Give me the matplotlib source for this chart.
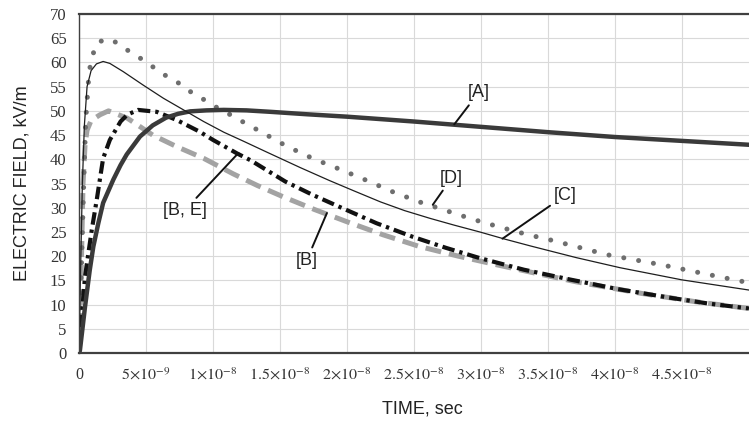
import numpy as np
import matplotlib
matplotlib.use('Agg')
import matplotlib.pyplot as plt

plt.rcParams['font.family'] = ['Liberation Sans', 'DejaVu Sans']
plt.rcParams['mathtext.fontset'] = 'stix'

# time in ns, field in kV/m
t_a = [0, 0.07, 0.45, 0.8, 1.07, 1.44, 1.8, 2.56, 3.1, 3.56, 4.55, 5.5, 6.5, 7.4, 8.3,
       9.5, 10.8, 12.5, 14.3, 17, 20, 25, 30, 35, 40, 45, 50]
e_a = [0, 0.6, 9.6, 17.1, 22, 26.8, 31, 35.8, 38.8, 41.0, 44.7, 47.0, 48.6, 49.4, 49.9,
       50.1, 50.2, 50.1, 49.8, 49.3, 48.8, 47.8, 46.7, 45.6, 44.6, 43.8, 43.0]

t_c = [0, 0.1, 0.25, 0.4, 0.6, 0.9, 1.3, 1.8, 2.3, 3.3, 4.8, 6.3, 7.8, 9.3, 10.8, 12.3,
       14.0, 16.5, 18.7, 20.5, 22.5, 24.3, 26.2, 28, 29.9, 31.8, 33.7, 35.4, 37.1,
       40.4, 45, 50]
e_c = [0, 15, 35, 47, 55, 58.3, 59.7, 60.2, 59.8, 58.1, 55.3, 52.6, 50.2, 47.8, 45.6,
       43.7, 41.5, 38.3, 35.6, 33.5, 31.2, 29.4, 27.8, 26.4, 25.0, 23.5, 22.1, 20.9,
       19.7, 17.6, 15.1, 13.0]

t_d = [0, 0.1, 0.2, 0.35, 0.5, 0.75, 1.0, 1.45, 2.4, 3.4, 4.4, 5.4, 6.4, 7.4, 8.4, 9.4,
       10.4, 11.5, 12.5, 13.5, 15.5, 17.5, 19.5, 21.5, 23.4, 25.4, 27.4, 29.4, 31.4,
       33.4, 35.4, 39.4, 43.5, 47.5, 50]
e_d = [0, 10, 20, 35, 48, 58, 61.5, 64.3, 64.8, 62.9, 61.2, 59.3, 57.4, 55.8, 53.8, 52.2,
       50.5, 48.9, 47.3, 45.8, 42.7, 40.1, 37.9, 35.6, 33.3, 31.2, 29.4, 27.6, 26.0,
       24.5, 23.2, 20.3, 18.2, 15.9, 14.5]

t_b = [0, 0.15, 0.3, 0.45, 0.6, 0.9, 1.57, 2.2, 3.6, 5.5, 7.3, 9.3, 11.5, 13.3,
       15.2, 17.6, 20.0, 22.7, 25.4, 28.3, 31.2, 34.2, 37.1, 42, 46, 50]
e_b = [0, 15, 35, 43, 46, 48.0, 49.2, 50.0, 48.5, 45.0, 42.6, 40.2, 37.0, 34.6,
       32.3, 29.6, 27.1, 24.4, 22.0, 20.0, 18.2, 16.4, 14.7, 12.3, 10.6, 9.2]

t_be = [0, 0.07, 0.45, 0.95, 1.32, 1.8, 2.3, 3.1, 3.6, 4.4, 5.8, 7.3, 9.0, 10, 11.8,
        12.8, 15.4, 17.4, 19.5, 22.2, 24.9, 27.4, 29.9, 33.2, 36.6, 40.2, 43.9,
        47, 50]
e_be = [0, 3.4, 15.8, 25.4, 31.6, 40.2, 44.0, 47.8, 49.2, 50.2, 49.8, 48.1, 45.7, 44.0,
        41.2, 39.8, 35.4, 32.7, 30.1, 26.8, 24.0, 21.7, 19.6, 17.2, 15.2, 13.2, 11.5,
        10.2, 9.2]

xtick_vals = [0, 5e-9, 1e-8, 1.5e-8, 2e-8, 2.5e-8, 3e-8, 3.5e-8, 4e-8, 4.5e-8]
xtick_labels = ['0', r'$5{\times}10^{-9}$', r'$1{\times}10^{-8}$', r'$1.5{\times}10^{-8}$',
                r'$2{\times}10^{-8}$', r'$2.5{\times}10^{-8}$', r'$3{\times}10^{-8}$',
                r'$3.5{\times}10^{-8}$', r'$4{\times}10^{-8}$', r'$4.5{\times}10^{-8}$']
ytick_vals = list(range(0, 75, 5))

ns = 1e-9

fig = plt.figure(figsize=(7.49, 4.22), dpi=100)
ax = fig.add_axes([0.1055, 0.1635, 0.8945, 0.8033])

ax.plot(np.array(t_b) * ns, e_b, color='#a3a3a3', lw=3.6, linestyle=(0, (3.2, 1.6)))
ax.plot(np.array(t_d) * ns, e_d, color='#6e6e6e', lw=3.6, linestyle=(0, (0.01, 3.0)),
        dash_capstyle='round')
ax.plot(np.array(t_be) * ns, e_be, color='#111111', lw=3.0,
        linestyle=(0, (3, 1.2, 0.8, 1.2)))
ax.plot(np.array(t_a) * ns, e_a, color='#3a3a3a', lw=3.2)
ax.plot(np.array(t_c) * ns, e_c, color='#1e1e1e', lw=0.9)

ax.set_xlim(0, 5e-8)
ax.set_ylim(0, 70)
ax.set_xticks(xtick_vals)
ax.set_xticklabels(xtick_labels)
ax.set_yticks(ytick_vals)
ax.grid(True, color='#d9d9d9', lw=0.8)
ax.set_axisbelow(True)
ax.tick_params(length=0, colors='#333333')
ax.tick_params(axis='x', pad=10, labelsize=11.5)
ax.tick_params(axis='y', pad=9, labelsize=12)
for lab in ax.get_yticklabels() + ax.get_xticklabels():
    lab.set_fontfamily('Liberation Serif')

for side in ['top', 'bottom']:
    ax.spines[side].set_color('#404040')
    ax.spines[side].set_linewidth(1.6)
ax.spines['left'].set_color('#404040')
ax.spines['left'].set_linewidth(1.0)
ax.spines['right'].set_visible(False)

ax.set_xlabel('TIME, sec', fontsize=13, color='#222222', va='center')
ax.set_ylabel('ELECTRIC FIELD, kV/m', fontsize=13, color='#222222', va='center')
ax.xaxis.set_label_coords(0.513, -0.165)
ax.yaxis.set_label_coords(-0.085, 0.5)

labels = ['[A]', '[D]', '[B]', '[B, E]', '[C]']
label_pos = [(29.8, 53.7), (27.8, 36.1), (17.0, 19.2), (7.9, 29.5), (36.3, 32.6)]
label_tip = [(28.0, 47.2), (26.4, 30.6), (18.5, 28.9), (11.9, 41.3), (31.6, 23.6)]
for txt, (tx, ty), (px, py) in zip(labels, label_pos, label_tip):
    ax.annotate(txt, xy=(px * ns, py), xytext=(tx * ns, ty), fontsize=13,
                ha='center', va='center', color='#222222',
                arrowprops=dict(arrowstyle='-', color='#111111', lw=1.4,
                                shrinkA=1, shrinkB=0))

fig.savefig('out.png', dpi=100)
